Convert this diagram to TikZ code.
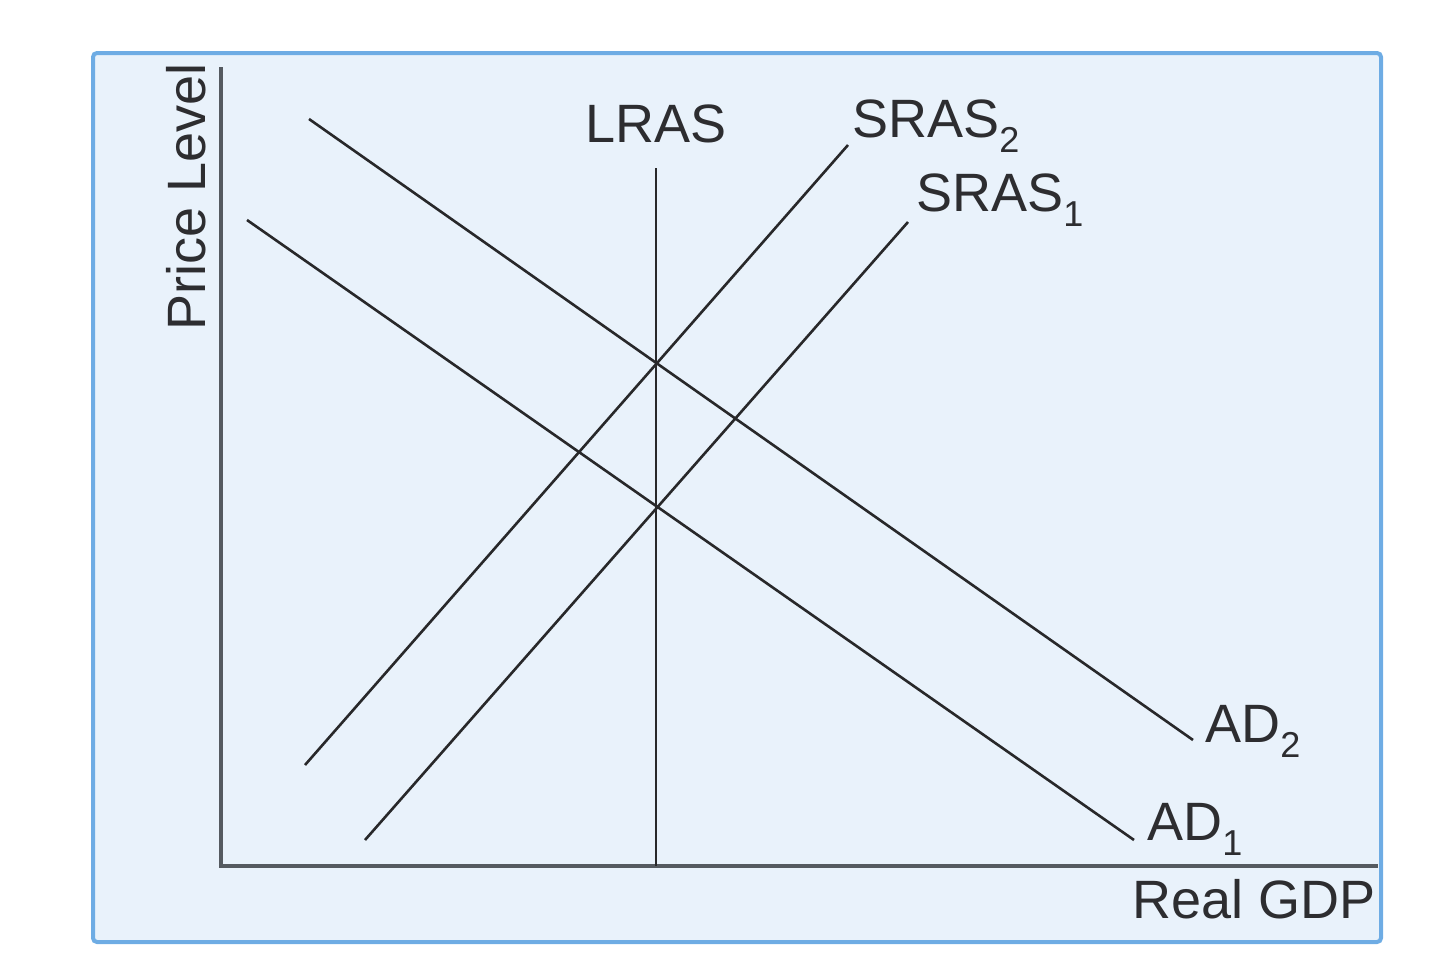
\documentclass[tikz,border=0pt]{standalone}
\usepackage{fontspec}
\setmainfont{Liberation Sans}
\definecolor{framefill}{RGB}{233,242,251}
\definecolor{framedraw}{RGB}{110,172,228}
\definecolor{axisgray}{RGB}{85,90,96}
\definecolor{curvegray}{RGB}{40,40,42}
\definecolor{textgray}{RGB}{45,45,48}
\newcommand{\lowsub}[1]{\raisebox{-7.5pt}{\fontsize{18}{18}\selectfont #1}}
\begin{document}
\begin{tikzpicture}[x=0.5pt,y=-0.5pt,
  lbl/.style={inner sep=0pt,text=textgray,font=\fontsize{27}{32}\selectfont},
  curve/.style={draw=curvegray,line width=1.3pt},
  axisline/.style={draw=axisgray,line width=1.6pt}]
\useasboundingbox (0,0) rectangle (1440,958);
\draw[fill=framefill,draw=framedraw,line width=2pt,rounded corners=2pt] (93,53) rectangle (1381,942);
% coordinates
\coordinate (yt) at (221,67);
\coordinate (o) at (221,866);
\coordinate (xr) at (1378,866);
\coordinate (lt) at (656,168);
\coordinate (lb) at (656,866);
\coordinate (s2a) at (305,765);
\coordinate (s2b) at (848,145);
\coordinate (s1a) at (365,840);
\coordinate (s1b) at (908,222);
\coordinate (d2a) at (309,119);
\coordinate (d2b) at (1193,740);
\coordinate (d1a) at (247,220);
\coordinate (d1b) at (1134,840);
% axes
\draw[axisline] (yt) -- (o) -- (xr);
% curves
\draw[curve] (lt) -- (lb);
\draw[curve] (s2a) -- (s2b);
\draw[curve] (s1a) -- (s1b);
\draw[curve] (d2a) -- (d2b);
\draw[curve] (d1a) -- (d1b);
% labels
\node[lbl,anchor=base] (lras) at (656,142) {LRAS};
\node[lbl,anchor=base west] (sras2) at (852,137) {SRAS\lowsub{2}};
\node[lbl,anchor=base west] (sras1) at (916,211) {SRAS\lowsub{1}};
\node[lbl,anchor=base west] (ad2) at (1205,742) {AD\lowsub{2}};
\node[lbl,anchor=base west] (ad1) at (1147,840) {AD\lowsub{1}};
\node[lbl,anchor=base east] (xlab) at (1376,918) {Real GDP};
\node[lbl,anchor=base west,rotate=90] (ylab) at (205,331) {Price Level};
\end{tikzpicture}
\end{document}
